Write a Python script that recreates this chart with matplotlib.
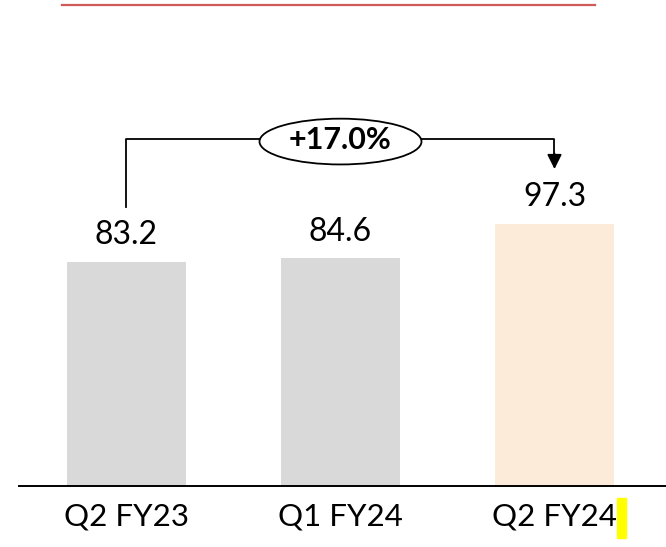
import matplotlib
matplotlib.use("Agg")
import matplotlib.pyplot as plt
from matplotlib.patches import Ellipse, Rectangle
from matplotlib.lines import Line2D

plt.rcParams['font.family'] = ['Lato', 'DejaVu Sans']

categories = ['Q2 FY23', 'Q1 FY24', 'Q2 FY24']
values = [83.2, 84.6, 97.3]
bar_colors = ['#d9d9d9', '#d9d9d9', '#fcebd8']
croissance_label = '+17.0%'

W, H = 666, 547
fig = plt.figure(figsize=(W / 100, H / 100), dpi=100)
ax = fig.add_axes([0, 61 / H, 1, 1 - 61 / H])

x = list(range(len(categories)))
ax.bar(x, values, width=0.556, color=bar_colors, zorder=2)
ax.set_xlim(-126.5 / 214, (W - 126.5) / 214)
ax.set_ylim(0, 486 / 2.693)

# valeurs au-dessus des barres
for xi, v in zip(x, values):
    ax.text(xi, v + 4.3, f"{v:.1f}", ha='center', va='bottom', fontsize=23, color='black')

# axe de base
ax.axhline(0, xmin=19 / W, xmax=1, color='black', linewidth=1.4, zorder=3, clip_on=False)

# étiquettes des catégories
for xi, lab in zip(x, categories):
    ax.text(xi, -6, lab, ha='center', va='top', fontsize=22.5, color='black', clip_on=False)

# crochet de croissance
y_haut = 128.9
ax.plot([0, 0, 2, 2], [values[0] + 20.4, y_haut, y_haut, 123], color='black', linewidth=1.3, zorder=3)
ax.annotate('', xy=(2, 117.7), xytext=(2, 123.5),
            arrowprops=dict(arrowstyle='-|>', color='black', lw=1.3,
                            mutation_scale=22, shrinkA=0, shrinkB=0))
ax.add_patch(Ellipse((1, y_haut - 1), 0.757, 17, facecolor='white', edgecolor='black',
                     linewidth=1.3, zorder=4))
ax.text(1, y_haut - 0.3, croissance_label, ha='center', va='center', fontsize=22,
        fontweight='bold', zorder=5)

ax.axis('off')

# ligne rouge en haut
fig.add_artist(Line2D([62 / W, 595 / W], [1 - 5 / H, 1 - 5 / H], color='#d05a5a', linewidth=1.6))
# surlignage jaune
fig.add_artist(Rectangle((617 / W, 1 - 538 / H), 9 / W, 40 / H, color='#ffff00', transform=fig.transFigure))

fig.savefig('out.png', dpi=100)
